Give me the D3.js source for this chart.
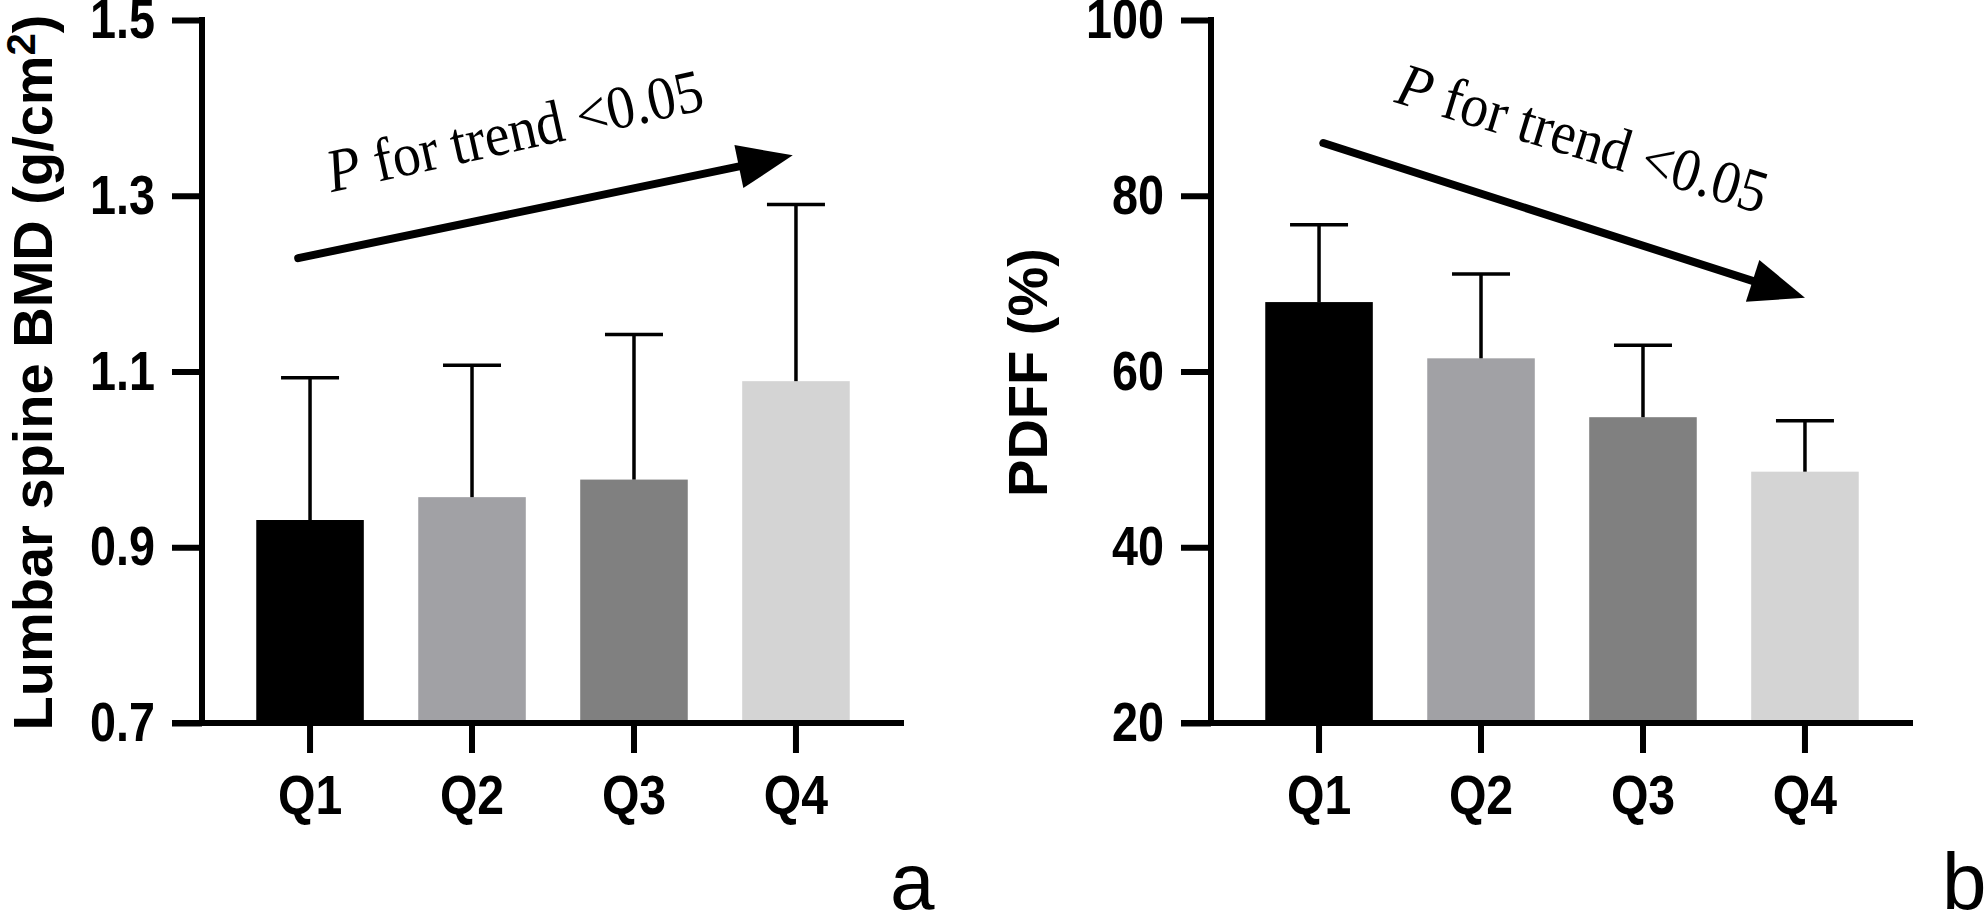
<!DOCTYPE html>
<html>
<head>
<meta charset="utf-8">
<script src="https://cdn.jsdelivr.net/npm/d3@7"></script>
<style>
  html, body { margin: 0; padding: 0; background: #fff; overflow: hidden; }
  svg { display: block; }
  .tick text { font-family: "Liberation Sans", Arial, sans-serif; font-weight: bold; }
</style>
</head>
<body>
<svg></svg>
<script>
const categories = ['Q1', 'Q2', 'Q3', 'Q4']
const barColors = ['#000000', '#a1a1a5', '#808080', '#d4d4d4']

// panel a
const bmdMean = [0.931, 0.957, 0.977, 1.089]
const bmdSd = [0.162, 0.150, 0.165, 0.201]
const bmdTicks = [0.7, 0.9, 1.1, 1.3, 1.5]

// panel b
const pdffMean = [67.9, 61.5, 54.8, 48.6]
const pdffSd = [8.8, 9.6, 8.2, 5.8]
const pdffTicks = [20, 40, 60, 80, 100]

const w = 1987
const h = 912

const svg = d3.select('svg')
  .attr('width', w)
  .attr('height', h);

const sans = '"Liberation Sans", Arial, sans-serif'
const serif = '"Liberation Serif", "Times New Roman", serif'

const plotTop = 20
const plotBottom = 723
const innerWidth = 702
const tickLen = 30

// tick labels in the figure are narrower than plain Arial
const squeeze = (sel, k) => sel.each(function () {
  const l = this.getComputedTextLength()
  d3.select(this)
    .attr('textLength', l * k)
    .attr('lengthAdjust', 'spacingAndGlyphs')
})

const render = (opts) => {
  const {left, mean, sd, ticks, fmt, titleX, title, arrow, note, letter, letterX} = opts

  const data = categories.map((c, i) => ({cat: c, mean: mean[i], sd: sd[i], color: barColors[i]}))

  const xScale = d3.scaleBand()
    .domain(categories)
    .range([0, innerWidth])
    .paddingInner(0.336)
    .paddingOuter(0.335)

  const yScale = d3.scaleLinear()
    .domain(d3.extent(ticks))
    .range([plotBottom, plotTop])

  const g = svg.append('g')
    .attr('transform', `translate(${left}, 0)`);

  // bars
  g.selectAll('rect.bar').data(data)
    .enter().append('rect')
    .attr('class', 'bar')
    .attr('x', d => xScale(d.cat))
    .attr('width', xScale.bandwidth())
    .attr('y', d => yScale(d.mean))
    .attr('height', d => plotBottom - yScale(d.mean))
    .attr('fill', d => d.color)

  // upper error bars only
  const cx = d => xScale(d.cat) + xScale.bandwidth() / 2
  const capHalf = 29
  const err = g.append('g')
    .attr('stroke', '#000')
    .attr('stroke-width', 3.5)
  err.selectAll('line.v').data(data)
    .enter().append('line')
    .attr('x1', cx).attr('x2', cx)
    .attr('y1', d => yScale(d.mean))
    .attr('y2', d => yScale(d.mean + d.sd))
  err.selectAll('line.c').data(data)
    .enter().append('line')
    .attr('x1', d => cx(d) - capHalf).attr('x2', d => cx(d) + capHalf)
    .attr('y1', d => yScale(d.mean + d.sd))
    .attr('y2', d => yScale(d.mean + d.sd))

  // y axis
  const yAxisG = g.append('g').call(
    d3.axisLeft(yScale)
      .tickValues(ticks)
      .tickFormat(fmt)
      .tickSize(tickLen)
      .tickSizeOuter(0)
      .tickPadding(17))
  yAxisG.attr('font-size', null).attr('font-family', null)
  yAxisG.select('.domain')
    .attr('d', `M0,${plotBottom}V${plotTop}`)
    .attr('stroke-width', 6)
    .attr('stroke-linecap', 'square')
  yAxisG.selectAll('.tick line').attr('stroke-width', 6)
  yAxisG.selectAll('.tick text')
    .attr('font-size', 55)
    .attr('fill', '#000')
    .call(squeeze, 0.85)

  // x axis
  const xAxisG = g.append('g')
    .attr('transform', `translate(0, ${plotBottom})`)
    .call(d3.axisBottom(xScale)
      .tickSize(tickLen)
      .tickSizeOuter(0)
      .tickPadding(21))
  xAxisG.attr('font-size', null).attr('font-family', null)
  xAxisG.select('.domain')
    .attr('d', `M${-tickLen},0H${innerWidth}`)
    .attr('stroke-width', 6)
  xAxisG.selectAll('.tick line').attr('stroke-width', 6)
  xAxisG.selectAll('.tick text')
    .attr('font-size', 56)
    .attr('fill', '#000')
    .call(squeeze, 0.86)

  // axis title
  const t = g.append('text')
    .attr('transform', `translate(${titleX}, ${(plotTop + plotBottom) / 2 + 1}) rotate(-90)`)
    .attr('text-anchor', 'middle')
    .attr('font-family', sans)
    .attr('font-weight', 'bold')
    .attr('font-size', 56)
  title(t)

  // trend arrow
  const p0 = [xScale(arrow.from[0]) + arrow.from[1] * xScale.bandwidth(), yScale(arrow.from[2])]
  const p1 = [xScale(arrow.to[0]) + arrow.to[1] * xScale.bandwidth(), yScale(arrow.to[2])]
  const dx = p1[0] - p0[0], dy = p1[1] - p0[1]
  const len = Math.hypot(dx, dy)
  const ux = dx / len, uy = dy / len
  const headLen = 55, headHalf = 22
  const base = [p1[0] - ux * headLen, p1[1] - uy * headLen]
  g.append('line')
    .attr('x1', p0[0]).attr('y1', p0[1])
    .attr('x2', base[0] + ux * 4).attr('y2', base[1] + uy * 4)
    .attr('stroke', '#000')
    .attr('stroke-width', 8)
    .attr('stroke-linecap', 'round')
  g.append('path')
    .attr('d', d3.line()([
      p1,
      [base[0] - uy * headHalf, base[1] + ux * headHalf],
      [base[0] + uy * headHalf, base[1] - ux * headHalf]
    ]) + 'Z')
    .attr('fill', '#000')

  // P for trend label
  const nx = xScale(note.at[0]) + note.at[1] * xScale.bandwidth()
  const ny = yScale(note.at[2])
  const nt = g.append('text')
    .attr('transform', `translate(${nx}, ${ny}) rotate(${note.angle})`)
    .attr('font-family', serif)
    .attr('font-size', 61)
  nt.append('tspan').attr('font-style', 'italic').text('P')
  nt.append('tspan').text(' for trend <0.05')
  nt.attr('textLength', 384).attr('lengthAdjust', 'spacingAndGlyphs')

  // panel letter
  svg.append('text')
    .attr('x', letterX)
    .attr('y', 909)
    .attr('font-family', sans)
    .attr('font-size', 80)
    .text(letter)
}

render({
  left: 202,
  mean: bmdMean,
  sd: bmdSd,
  ticks: bmdTicks,
  fmt: d3.format('.1f'),
  titleX: -150,
  title: t => {
    t.append('tspan').text('Lumbar spine BMD (g/cm')
    t.append('tspan').attr('font-size', 40).attr('dy', -17).text('2')
    t.append('tspan').attr('dy', 17).text(')')
  },
  arrow: {from: ['Q1', 0.39, 1.229], to: ['Q4', 0.47, 1.346]},
  note: {at: ['Q1', 0.70, 1.304], angle: -12.5},
  letter: 'a',
  letterX: 890
})

render({
  left: 1211,
  mean: pdffMean,
  sd: pdffSd,
  ticks: pdffTicks,
  fmt: d3.format('d'),
  titleX: -164,
  title: t => t.text('PDFF (%)'),
  arrow: {from: ['Q1', 0.54, 86.0], to: ['Q4', 0.50, 68.4]},
  note: {at: ['Q1', 1.19, 90.7], angle: 17},
  letter: 'b',
  letterX: 1942
})
</script>
</body>
</html>
